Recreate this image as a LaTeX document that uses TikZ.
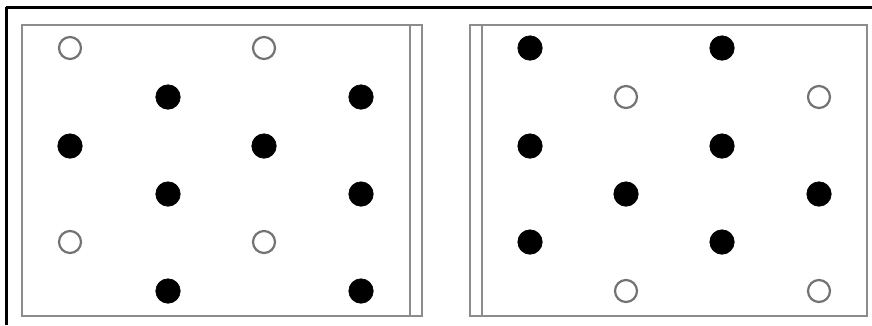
\documentclass[tikz,border=0pt]{standalone}
\begin{document}
\begin{tikzpicture}[x=1pt,y=-1pt,
  frameline/.style={draw=black,line width=2.2pt},
  panelline/.style={draw=black!45,line width=1.6pt},
  filled/.style={circle,fill=black,draw=black,line width=0.6pt,minimum size=24.5pt,inner sep=0pt},
  hollow/.style={circle,fill=white,draw=black!55,line width=2.2pt,minimum size=22pt,inner sep=0pt}]
\useasboundingbox (0,0) rectangle (872,325);
\fill[white] (0,0) rectangle (872,325);
% outer frame lines
\draw[frameline] (5.5,7.5) -- (872,7.5);
\draw[frameline] (6.5,6.5) -- (6.5,325);
% left panel
\draw[panelline] (22,25) rectangle (422,316);
\draw[panelline] (410,25) -- (410,316);
% right panel
\draw[panelline] (470,25) rectangle (867,316);
\draw[panelline] (482,25) -- (482,316);
% left panel circles
\node[hollow] (L11) at (70,48) {};
\node[hollow] (L13) at (264,48) {};
\node[filled] (L22) at (168,97) {};
\node[filled] (L24) at (361,97) {};
\node[filled] (L31) at (70,146) {};
\node[filled] (L33) at (264,146) {};
\node[filled] (L42) at (168,194) {};
\node[filled] (L44) at (361,194) {};
\node[hollow] (L51) at (70,242) {};
\node[hollow] (L53) at (264,242) {};
\node[filled] (L62) at (168,291) {};
\node[filled] (L64) at (361,291) {};
% right panel circles
\node[filled] (R11) at (530,48) {};
\node[filled] (R13) at (722,48) {};
\node[hollow] (R22) at (626,97) {};
\node[hollow] (R24) at (819,97) {};
\node[filled] (R31) at (530,146) {};
\node[filled] (R33) at (722,146) {};
\node[filled] (R42) at (626,194) {};
\node[filled] (R44) at (819,194) {};
\node[filled] (R51) at (530,242) {};
\node[filled] (R53) at (722,242) {};
\node[hollow] (R62) at (626,291) {};
\node[hollow] (R64) at (819,291) {};
\end{tikzpicture}
\end{document}
